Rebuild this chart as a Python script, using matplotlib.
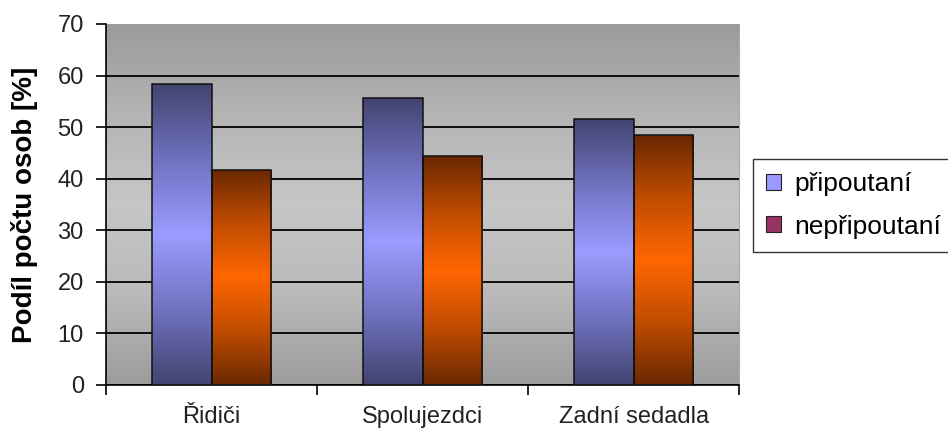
import numpy as np
import matplotlib
matplotlib.use('Agg')
import matplotlib.pyplot as plt
from matplotlib.patches import Patch
from matplotlib.colors import LinearSegmentedColormap

plt.rcParams['font.family'] = ['Liberation Sans', 'DejaVu Sans']

categories = ['Řidiči', 'Spolujezdci', 'Zadní sedadla']
series     = ['připoutaní', 'nepřipoutaní']
pripoutani   = [58.3, 55.6, 51.6]
nepripoutani = [41.7, 44.4, 48.4]
yticks = [0, 10, 20, 30, 40, 50, 60, 70]

legendColors = ['#9999ff', '#993366']
# dark edge -> light middle -> dark edge, per bar
barMaps = [
    LinearSegmentedColormap.from_list('b', ['#434470', '#7072c0', '#9a9cff', '#7072c0', '#434470']),
    LinearSegmentedColormap.from_list('o', ['#6a2800', '#c04c00', '#ff6600', '#c04c00', '#6a2800']),
]
bgMap = LinearSegmentedColormap.from_list('bg', ['#9a9a9a', '#b4b4b4', '#c6c6c6', '#bababa', '#9c9c9c'])

fig = plt.figure(figsize=(9.48, 4.36), dpi=100)
ax = fig.add_axes([0.1118, 0.117, 0.668, 0.828])

# background gradient
grad = np.linspace(0, 1, 256).reshape(-1, 1)
ax.imshow(grad, cmap=bgMap, aspect='auto', extent=[0, 1, 0, 1],
          transform=ax.transAxes, zorder=0, interpolation='bilinear')

x = np.arange(len(categories))
w = 0.283
for i, vals in enumerate([pripoutani, nepripoutani]):
    pos = x + (i - 0.5) * w
    bars = ax.bar(pos, vals, width=w, color=legendColors[i], zorder=3, linewidth=0)
    for p in bars:
        x0, y0 = p.get_x(), p.get_y()
        im = ax.imshow(grad, cmap=barMaps[i], aspect='auto', interpolation='bilinear',
                       extent=[x0, x0 + p.get_width(), y0, y0 + p.get_height()], zorder=3.5)
        im.set_clip_path(p)
    ax.bar(pos, vals, width=w, fill=False, edgecolor='#111111', linewidth=1.1, zorder=4)

ax.set_xlim(-0.5, len(categories) - 0.5)
ax.set_ylim(0, 70)
ax.set_yticks(yticks)
ax.tick_params(axis='y', labelsize=17, length=7, width=1.2, color='black', pad=9, labelcolor='#222222')
ax.set_xticks(np.arange(len(categories) + 1) - 0.5)
ax.set_xticklabels([])
ax.set_xticks(x, minor=True)
ax.set_xticklabels(categories, minor=True, fontsize=17, color='#222222')
ax.tick_params(axis='x', which='major', length=7, width=1.2, direction='out')
ax.tick_params(axis='x', which='minor', length=0, pad=15)

ax.yaxis.grid(True, color='black', linewidth=1.3, zorder=1)
ax.set_axisbelow(True)
ax.get_ygridlines()[-1].set_visible(False)
ax.spines['top'].set_visible(False)
ax.spines['right'].set_color('#aaaaaa')
ax.spines['left'].set_linewidth(1.2)
ax.spines['bottom'].set_linewidth(1.2)

ax.set_ylabel('Podíl počtu osob [%]', fontsize=20, fontweight='bold')
ax.yaxis.set_label_coords(-0.108, 0.5)

handles = [Patch(facecolor=c, edgecolor='#222222', linewidth=0.8) for c in legendColors]
leg = fig.legend(handles, series, loc='upper left', bbox_to_anchor=(0.7943, 0.6353),
                 fontsize=19, frameon=True, fancybox=False, edgecolor='black',
                 handlelength=0.55, handleheight=0.55, handletextpad=0.5,
                 borderpad=0.5, labelspacing=0.7, borderaxespad=0)
leg.get_frame().set_linewidth(1.0)

plt.savefig('out.png', dpi=100)
plt.close('all')
